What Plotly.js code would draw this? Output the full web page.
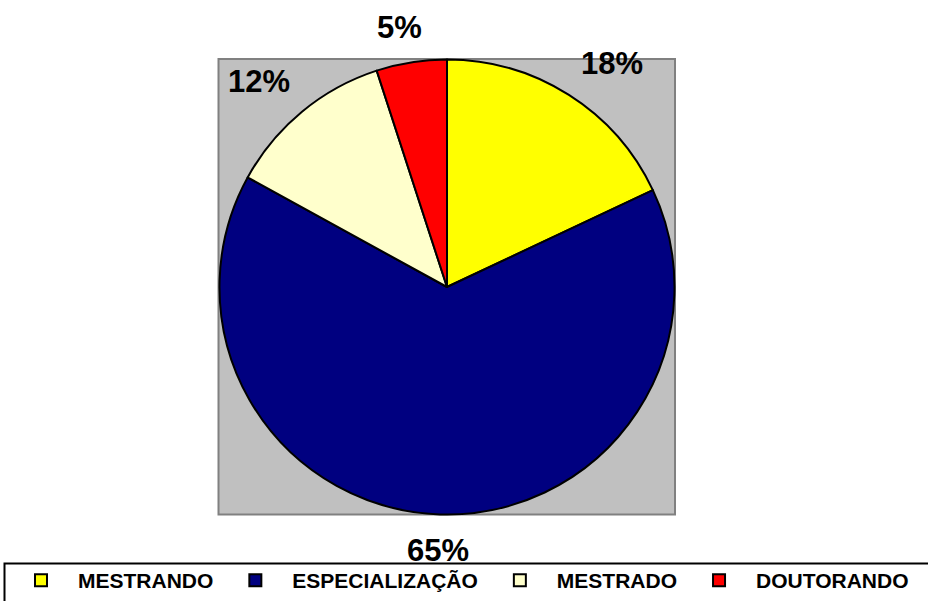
<!DOCTYPE html>
<html>
<head>
<meta charset="utf-8">
<script src="https://cdn.plot.ly/plotly-3.0.1.min.js"></script>
<style>html,body{margin:0;padding:0;background:#fff;}#chart{width:928px;height:601px;}</style>
</head>
<body>
<div id="chart"></div>
<script>
const categories = ['MESTRANDO', 'ESPECIALIZAÇÃO', 'MESTRADO', 'DOUTORANDO'];
const values = [18, 65, 12, 5];
const colors = ['#FFFF00', '#000080', '#FFFFCC', '#FF0000'];

const W = 928, H = 601;
const px = v => v / W;
const py = v => 1 - v / H;
const FONT = 'Liberation Sans, Arial, sans-serif';
const LABEL_SIZE = 31;

// pie geometry (pixels)
const pieLeft = 219.5, pieRight = 674.5, pieTop = 59.5, pieBottom = 514.5;
const cx = (pieLeft + pieRight) / 2, cy = (pieTop + pieBottom) / 2;
const rad = (pieRight - pieLeft) / 2;

const trace = {
  type: 'pie',
  labels: categories,
  values: values,
  sort: false,
  direction: 'clockwise',
  rotation: 0,
  marker: { colors: colors, line: { color: '#000000', width: 2 } },
  textinfo: 'none',
  textposition: 'none',
  hoverinfo: 'label+percent',
  domain: { x: [px(pieLeft), px(pieRight)], y: [py(pieBottom), py(pieTop)] }
};

// percentage labels placed outside each slice, Excel-like
const ctx = document.createElement('canvas').getContext('2d');
ctx.font = 'bold ' + LABEL_SIZE + 'px "Liberation Sans", Arial, sans-serif';
const total = values.reduce((a, b) => a + b, 0);
const clamp1 = v => Math.max(-1, Math.min(1, v));
let cum = 0;
const annotations = values.map(v => {
  const mid = (cum + v / 2) / total * 2 * Math.PI;
  cum += v;
  const txt = Math.round(v / total * 100) + '%';
  const dx = Math.sin(mid), dy = -Math.cos(mid);
  const w = ctx.measureText(txt).width, h = 30;
  const R = rad + 20.5;
  const x = cx + R * dx + (w / 2) * clamp1(3 * dx) + 1.5;
  const y = cy + R * dy + (h / 2) * clamp1(3 * dy) + 0.5;
  return {
    xref: 'paper', yref: 'paper', x: px(x), y: py(y),
    xanchor: 'center', yanchor: 'middle', showarrow: false,
    text: '<b>' + txt + '</b>',
    font: { family: FONT, size: LABEL_SIZE, color: '#000' }
  };
});

const layout = {
  width: W, height: H,
  margin: { l: 0, r: 0, t: 0, b: 0 },
  paper_bgcolor: '#ffffff',
  showlegend: true,
  font: { family: FONT, color: '#000' },
  legend: {
    orientation: 'h',
    x: px(4), xanchor: 'left',
    y: 0, yanchor: 'bottom',
    bgcolor: 'rgba(0,0,0,0)',
    borderwidth: 0,
    itemwidth: 64,
    font: { family: FONT, size: 21, color: '#000', weight: 'bold' },
    traceorder: 'normal'
  },
  annotations: annotations,
  shapes: [{
    type: 'rect', xref: 'paper', yref: 'paper', layer: 'below',
    x0: px(218.5), x1: px(675), y0: py(514.5), y1: py(59),
    fillcolor: '#C0C0C0',
    line: { color: '#808080', width: 2 }
  }, {
    type: 'rect', xref: 'paper', yref: 'paper', layer: 'below',
    x0: px(4.5), x1: px(940), y0: py(612), y1: py(563.5),
    fillcolor: '#ffffff',
    line: { color: '#000000', width: 2 }
  }]
};

Plotly.newPlot('chart', [trace], layout, { displayModeBar: false, staticPlot: true });
</script>
</body>
</html>
